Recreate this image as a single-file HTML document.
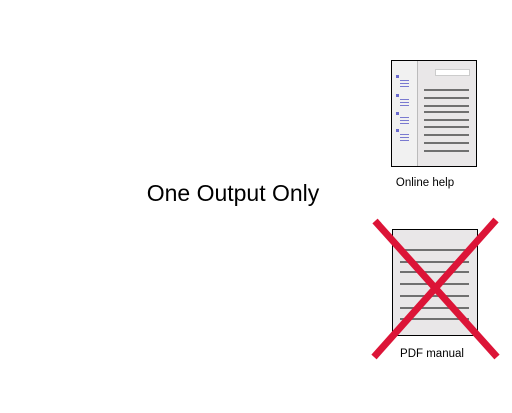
<!DOCTYPE html>
<html><head><meta charset="utf-8"><style>
body{margin:0;background:#fff;width:512px;height:408px;overflow:hidden;font-family:"Liberation Sans",sans-serif}
</style></head><body>
<svg width="512" height="408">
<text x="233" y="201" font-size="23" text-anchor="middle" fill="#000">One Output Only</text>
<g>
<rect x="391.5" y="60.5" width="85" height="106" fill="#e9e7e8" stroke="#000"/>
<rect x="392" y="61" width="25" height="105" fill="#f1f1f1"/>
<line x1="417.5" y1="61" x2="417.5" y2="166" stroke="#bbb"/>
<rect x="435.5" y="69.5" width="34" height="6" fill="#fff" stroke="#ccc"/>
<g stroke="#707070" stroke-width="2">
<line x1="424" y1="90" x2="469" y2="90"/><line x1="424" y1="98" x2="469" y2="98"/>
<line x1="424" y1="106" x2="469" y2="106"/><line x1="424" y1="112" x2="469" y2="112"/>
<line x1="424" y1="120" x2="469" y2="120"/><line x1="424" y1="127" x2="469" y2="127"/>
<line x1="424" y1="135" x2="469" y2="135"/><line x1="424" y1="143" x2="469" y2="143"/>
<line x1="424" y1="151" x2="469" y2="151"/>
</g>
<g fill="#6a6acd"><rect x="396" y="75" width="3" height="3"/><rect x="396" y="94" width="3" height="3"/><rect x="396" y="112" width="3" height="3"/><rect x="396" y="129" width="3" height="3"/></g>
<g stroke="#7a7ad0" stroke-width="1">
<line x1="400" y1="80.5" x2="409" y2="80.5"/><line x1="400" y1="83.5" x2="409" y2="83.5"/><line x1="400" y1="86.5" x2="409" y2="86.5"/>
<line x1="400" y1="99.5" x2="409" y2="99.5"/><line x1="400" y1="102.5" x2="409" y2="102.5"/><line x1="400" y1="105.5" x2="409" y2="105.5"/>
<line x1="400" y1="117.5" x2="409" y2="117.5"/><line x1="400" y1="120.5" x2="409" y2="120.5"/><line x1="400" y1="123.5" x2="409" y2="123.5"/>
<line x1="400" y1="134.5" x2="409" y2="134.5"/><line x1="400" y1="137.5" x2="409" y2="137.5"/><line x1="400" y1="140.5" x2="409" y2="140.5"/>
</g>
</g>
<text x="425" y="186" font-size="11.5" text-anchor="middle">Online help</text>
<g>
<rect x="392.5" y="229.5" width="85" height="106" fill="#e9e7e8" stroke="#000"/>
<g stroke="#707070" stroke-width="2">
<line x1="400" y1="250" x2="469" y2="250"/><line x1="400" y1="262" x2="469" y2="262"/>
<line x1="400" y1="272" x2="469" y2="272"/><line x1="400" y1="284" x2="469" y2="284"/>
<line x1="400" y1="296" x2="469" y2="296"/><line x1="400" y1="308" x2="469" y2="308"/>
<line x1="400" y1="319" x2="469" y2="319"/>
</g>
</g>
<g stroke="#dc1437" stroke-width="7">
<line x1="375" y1="221" x2="497" y2="357"/><line x1="496" y1="220" x2="374" y2="357"/>
</g>
<text x="432" y="357" font-size="11.5" text-anchor="middle">PDF manual</text>
</svg>
</body></html>
